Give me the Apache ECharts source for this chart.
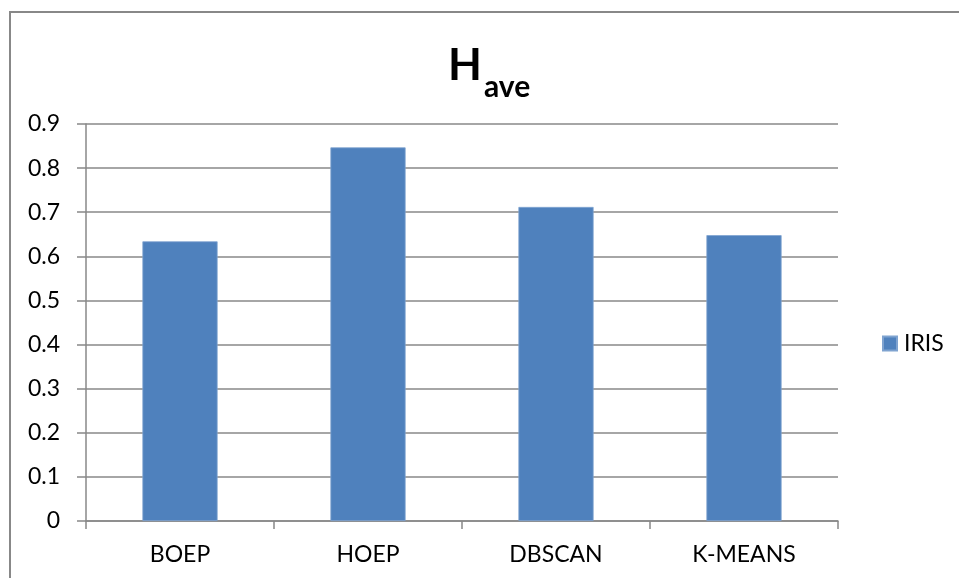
<!DOCTYPE html>
<html>
<head>
<meta charset="utf-8">
<script src="https://cdn.jsdelivr.net/npm/echarts@6/dist/echarts.min.js"></script>
<style>
  html, body { margin: 0; padding: 0; background: #fff; }
  #chart { width: 959px; height: 578px; }
</style>
</head>
<body>
<div id="chart"></div>
<script>
// Average entropy (H_ave) per clustering method on the IRIS data set
const categories = ['BOEP', 'HOEP', 'DBSCAN', 'K-MEANS'];
const seriesName = 'IRIS';
const irisValues = [0.634, 0.847, 0.712, 0.648];
const yTicks = { min: 0, max: 0.9, interval: 0.1 };

const FONT = 'Lato, "Open Sans", "Liberation Sans", sans-serif';
const AXIS_GREY = '#888888';
const LABEL_SIZE = 23;

const chart = echarts.init(document.getElementById('chart'), null, { renderer: 'canvas' });

chart.setOption({
  backgroundColor: '#ffffff',
  animation: false,
  title: {
    text: '{h|H}{s|ave}',
    left: 443,
    top: 33,
    textStyle: {
      rich: {
        h: { fontFamily: FONT, fontWeight: 'bold', fontSize: 44, color: '#000', verticalAlign: 'bottom', lineHeight: 50 },
        s: { fontFamily: FONT, fontWeight: 'bold', fontSize: 30, color: '#000', verticalAlign: 'bottom', lineHeight: 50, padding: [0, 0, -14, 2] }
      }
    }
  },
  legend: {
    data: [seriesName],
    orient: 'vertical',
    left: 877,
    top: 327,
    itemWidth: 14,
    itemHeight: 14,
    itemGap: 8,
    icon: 'rect',
    textStyle: { fontFamily: FONT, fontSize: LABEL_SIZE, color: '#000', padding: [0, 0, 0, 2] }
  },
  grid: { left: 86, right: 121, top: 124, bottom: 57, containLabel: false },
  xAxis: {
    type: 'category',
    data: categories,
    axisLine: { lineStyle: { color: AXIS_GREY, width: 1.5 } },
    axisTick: { show: true, length: 8, alignWithLabel: false, lineStyle: { color: AXIS_GREY, width: 1.5 } },
    axisLabel: { fontFamily: FONT, fontSize: LABEL_SIZE, color: '#000', margin: 22 }
  },
  yAxis: {
    type: 'value',
    min: yTicks.min,
    max: yTicks.max,
    interval: yTicks.interval,
    axisLine: { show: true, lineStyle: { color: AXIS_GREY, width: 1.5 } },
    axisTick: { show: true, length: 9, lineStyle: { color: AXIS_GREY, width: 1.5 } },
    axisLabel: {
      fontFamily: FONT, fontSize: LABEL_SIZE, color: '#000', margin: 26,
      formatter: v => (Math.round(v * 10) / 10).toString()
    },
    splitLine: { show: true, lineStyle: { color: AXIS_GREY, width: 1.5 } }
  },
  series: [{
    name: seriesName,
    type: 'bar',
    data: irisValues,
    barWidth: '40%',
    itemStyle: { color: '#4F81BD', borderColor: '#7FA3D0', borderWidth: 0.8 }
  }],
  graphic: [
    {
      type: 'polyline',
      silent: true,
      shape: { points: [[10, 578], [10, 12], [959, 12]] },
      style: { stroke: AXIS_GREY, lineWidth: 2, fill: null }
    }
  ]
});
</script>
</body>
</html>
